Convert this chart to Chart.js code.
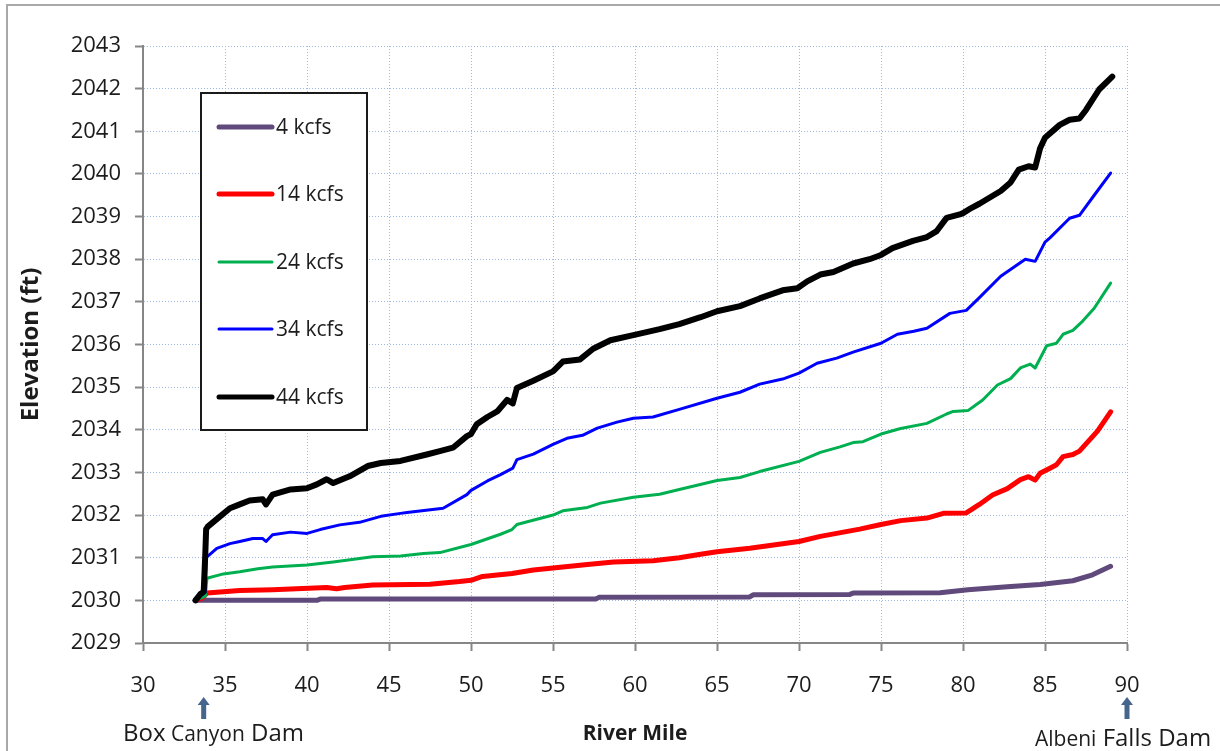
<!DOCTYPE html>
<html><head><meta charset="utf-8">
<script src="https://cdn.jsdelivr.net/npm/chart.js@4.4.0/dist/chart.umd.min.js"></script>
<style>
html,body{margin:0;padding:0;background:#fff;overflow:hidden;}
#wrap{position:relative;width:1220px;height:751px;overflow:hidden;}
#frame{position:absolute;left:6px;top:4px;width:1260px;height:800px;border:2px solid #a9a9a9;box-sizing:border-box;pointer-events:none;}
canvas{position:absolute;left:0;top:0;}
</style></head><body>
<div id="wrap"><canvas id="c" width="1220" height="751" style="width:1220px;height:751px"></canvas><div id="frame"></div></div>
<script>
// ---- data ----
const seriesLabels = ["4 kcfs", "14 kcfs", "24 kcfs", "34 kcfs", "44 kcfs"];
const seriesColors = ["#604A7B", "#FF0000", "#00B050", "#0000FF", "#000000"];

const mile4  = [33.2,33.8,40.6,40.8,57.6,57.8,67.0,67.2,73.1,73.3,78.6,80.3,82.7,84.7,86.7,87.9,89.0];
const elev4  = [2030.0,2030.0,2030.0,2030.03,2030.03,2030.07,2030.08,2030.13,2030.14,2030.17,2030.18,2030.25,2030.32,2030.37,2030.46,2030.6,2030.8];

const mile14 = [33.2,33.6,33.9,35.9,37.9,41.2,41.8,42.3,44.0,47.5,49.3,50.0,50.7,52.5,53.8,55.0,57.1,58.7,61.1,62.7,64.0,65.0,67.0,70.0,71.3,73.7,75.0,76.2,77.8,78.8,80.2,81.0,81.8,82.7,83.5,84.0,84.4,84.7,85.3,85.7,86.1,86.7,87.1,88.2,89.0];
const elev14 = [2030.0,2030.05,2030.17,2030.23,2030.25,2030.3,2030.27,2030.3,2030.36,2030.38,2030.44,2030.47,2030.56,2030.63,2030.71,2030.76,2030.84,2030.9,2030.93,2031.0,2031.08,2031.14,2031.22,2031.38,2031.5,2031.67,2031.78,2031.87,2031.93,2032.04,2032.05,2032.25,2032.47,2032.62,2032.83,2032.9,2032.82,2032.98,2033.1,2033.18,2033.37,2033.42,2033.5,2033.97,2034.42];

const mile24 = [33.2,33.8,33.9,34.9,35.9,37.0,37.9,40.0,41.6,44.0,45.7,47.1,48.1,50.0,51.8,52.5,52.8,55.0,55.6,57.1,57.9,59.9,61.5,62.7,65.0,66.4,67.6,70.0,71.3,72.5,73.3,73.9,75.0,76.2,77.8,79.0,79.4,80.3,81.2,82.1,82.9,83.5,84.1,84.4,85.1,85.7,86.1,86.7,87.3,88.0,89.0];
const elev24 = [2030.0,2030.1,2030.52,2030.62,2030.67,2030.74,2030.78,2030.83,2030.9,2031.02,2031.04,2031.1,2031.12,2031.31,2031.55,2031.66,2031.78,2032.0,2032.1,2032.18,2032.28,2032.42,2032.49,2032.6,2032.81,2032.88,2033.02,2033.26,2033.47,2033.6,2033.7,2033.72,2033.9,2034.03,2034.15,2034.37,2034.43,2034.45,2034.7,2035.05,2035.2,2035.45,2035.54,2035.45,2035.97,2036.03,2036.24,2036.33,2036.55,2036.85,2037.44];

const mile34 = [33.2,33.8,33.85,34.5,35.3,35.9,36.7,37.3,37.5,37.9,39.0,40.0,40.8,42.0,43.2,44.5,45.7,46.1,48.3,49.75,50.0,51.0,51.8,52.55,52.8,53.8,55.0,55.85,56.8,57.7,58.9,59.9,61.1,62.7,65.0,66.4,67.6,69.0,70.0,71.1,72.3,73.3,75.0,76.0,77.0,77.8,79.2,80.2,81.0,82.3,83.8,84.4,85.0,85.3,86.5,87.1,88.0,89.0];
const elev34 = [2030.0,2030.2,2031.0,2031.22,2031.33,2031.38,2031.45,2031.45,2031.38,2031.54,2031.6,2031.57,2031.66,2031.77,2031.83,2031.97,2032.04,2032.06,2032.16,2032.48,2032.58,2032.8,2032.95,2033.1,2033.3,2033.43,2033.66,2033.8,2033.87,2034.04,2034.18,2034.27,2034.3,2034.48,2034.74,2034.88,2035.07,2035.19,2035.33,2035.56,2035.68,2035.82,2036.03,2036.24,2036.31,2036.38,2036.73,2036.8,2037.1,2037.6,2038.0,2037.95,2038.4,2038.5,2038.96,2039.03,2039.5,2040.02];

const mile44 = [33.2,33.5,33.7,33.8,33.85,33.95,34.7,35.3,35.9,36.5,37.3,37.5,37.9,39.0,40.0,40.6,41.2,41.6,42.6,43.7,44.5,45.7,47.3,48.1,48.9,49.75,50.0,50.35,51.0,51.6,52.2,52.55,52.8,53.8,55.0,55.6,56.65,57.45,58.5,59.9,61.5,62.7,64.0,65.0,66.4,67.6,69.0,69.9,70.5,71.3,72.1,73.3,74.3,75.0,75.7,76.95,77.8,78.4,79.0,79.8,80.0,80.5,81.0,82.3,82.9,83.4,84.0,84.4,84.7,85.0,85.9,86.5,87.1,87.5,88.3,89.1];
const elev44 = [2030.0,2030.15,2030.2,2031.1,2031.67,2031.73,2031.97,2032.16,2032.25,2032.34,2032.37,2032.25,2032.48,2032.6,2032.63,2032.72,2032.84,2032.75,2032.91,2033.15,2033.22,2033.27,2033.42,2033.5,2033.58,2033.85,2033.9,2034.13,2034.3,2034.43,2034.7,2034.62,2034.98,2035.15,2035.37,2035.6,2035.65,2035.9,2036.1,2036.22,2036.36,2036.48,2036.64,2036.78,2036.9,2037.08,2037.27,2037.32,2037.48,2037.64,2037.7,2037.9,2038.0,2038.1,2038.26,2038.43,2038.52,2038.66,2038.97,2039.05,2039.08,2039.2,2039.3,2039.6,2039.8,2040.1,2040.18,2040.15,2040.6,2040.85,2041.15,2041.27,2041.3,2041.5,2041.98,2042.28];

const xTickValues = [30,35,40,45,50,55,60,65,70,75,80,85,90];
const yTickValues = [2029,2030,2031,2032,2033,2034,2035,2036,2037,2038,2039,2040,2041,2042,2043];
const xAxisTitle = "River Mile";
const yAxisTitle = "Elevation (ft)";
const damNotes = [
  {mile: 33.7, parts: [["Box",24],[" Canyon",21],[" Dam",24]], startX: 123, baseline: 741},
  {mile: 90,   parts: [["Albeni",21],[" Falls Dam",24]], startX: 1035, baseline: 746}
];

// ---- build chart ----
const milesList = [mile4, mile14, mile24, mile34, mile44];
const elevList  = [elev4, elev14, elev24, elev34, elev44];
const widths = [5, 5, 3, 3, 6];
const FONT = "'Open Sans', 'DejaVu Sans', sans-serif";
const TXT = "#1c1c1c";

const datasets = seriesLabels.map((lab, i) => ({
  label: lab,
  data: milesList[i].map((m, k) => ({x: m, y: elevList[i][k]})),
  borderColor: seriesColors[i],
  backgroundColor: seriesColors[i],
  borderWidth: widths[i],
  pointRadius: 0,
  tension: 0,
  fill: false,
  borderJoinStyle: 'round',
  borderCapStyle: 'round',
  order: seriesLabels.length - 1 - i
}));

const boxLegend = {
  id: 'boxLegend',
  afterDraw(chart) {
    const ctx = chart.ctx;
    ctx.save();
    ctx.fillStyle = '#fff';
    ctx.fillRect(200, 92, 167, 338);
    ctx.strokeStyle = '#1a1a1a';
    ctx.lineWidth = 2;
    ctx.strokeRect(201, 93, 166, 337);
    const ys = [127, 194, 262, 329, 397];
    chart.data.datasets.forEach((ds, i) => {
      ctx.strokeStyle = ds.borderColor;
      ctx.lineWidth = Math.min(ds.borderWidth, 5);
      ctx.lineCap = 'round';
      ctx.beginPath();
      ctx.moveTo(219, ys[i]);
      ctx.lineTo(272, ys[i]);
      ctx.stroke();
      ctx.fillStyle = TXT;
      ctx.font = "21px " + FONT;
      ctx.textBaseline = 'middle';
      ctx.textAlign = 'left';
      ctx.fillText(ds.label, 276, ys[i] + 1);
    });
    ctx.restore();
  }
};

const damMarks = {
  id: 'damMarks',
  afterDraw(chart) {
    const ctx = chart.ctx;
    const xs = chart.scales.x;
    ctx.save();
    damNotes.forEach(n => {
      const px = xs.getPixelForValue(n.mile);
      ctx.fillStyle = '#45658D';
      ctx.beginPath();
      ctx.moveTo(px, 697);
      ctx.lineTo(px + 6, 705);
      ctx.lineTo(px + 2.5, 705);
      ctx.lineTo(px + 2.5, 719);
      ctx.lineTo(px - 2.5, 719);
      ctx.lineTo(px - 2.5, 705);
      ctx.lineTo(px - 6, 705);
      ctx.closePath();
      ctx.fill();
      let x = n.startX;
      ctx.fillStyle = TXT;
      ctx.textBaseline = 'alphabetic';
      ctx.textAlign = 'left';
      n.parts.forEach(([t, s]) => {
        ctx.font = s + "px " + FONT;
        ctx.fillText(t, x, n.baseline);
        x += ctx.measureText(t).width;
      });
    });
    ctx.restore();
  }
};

const gridDot = '#9DB8E2';
const axisGray = '#868686';

new Chart(document.getElementById('c'), {
  type: 'line',
  data: { datasets },
  options: {
    responsive: false,
    animation: false,
    devicePixelRatio: 1,
    layout: { padding: { left: 10, top: 46, right: 93, bottom: 4 } },
    plugins: { legend: { display: false }, tooltip: { enabled: false }, title: { display: false } },
    scales: {
      x: {
        type: 'linear', min: 30, max: 90,
        afterBuildTicks: s => { s.ticks = xTickValues.map(v => ({value: v})); },
        afterFit: s => { s.height = 104; },
        ticks: { color: TXT, font: { family: FONT, size: 22 }, padding: 22, maxRotation: 0, autoSkip: false, callback: v => String(v) },
        grid: { color: gridDot, lineWidth: 1, tickColor: axisGray, tickWidth: 2, tickLength: 8 },
        border: { display: true, color: axisGray, width: 2, dash: [1, 2] },
        title: { display: true, text: xAxisTitle, color: TXT, font: { family: FONT, size: 21, weight: 'bold' }, padding: { top: 0, bottom: 0 } }
      },
      y: {
        type: 'linear', min: 2029, max: 2043,
        afterBuildTicks: s => { s.ticks = yTickValues.map(v => ({value: v})); },
        afterFit: s => { s.width = 133; },
        ticks: { color: TXT, font: { family: FONT, size: 22 }, padding: 14, autoSkip: false, callback: v => String(v) },
        grid: { color: gridDot, lineWidth: 1, tickColor: axisGray, tickWidth: 2, tickLength: 8 },
        border: { display: true, color: axisGray, width: 2, dash: [1, 2] },
        title: { display: true, text: yAxisTitle, color: TXT, font: { family: FONT, size: 24, weight: 'bold' }, padding: { top: 7, bottom: 0 } }
      }
    }
  },
  plugins: [boxLegend, damMarks]
});
</script>
</body></html>
